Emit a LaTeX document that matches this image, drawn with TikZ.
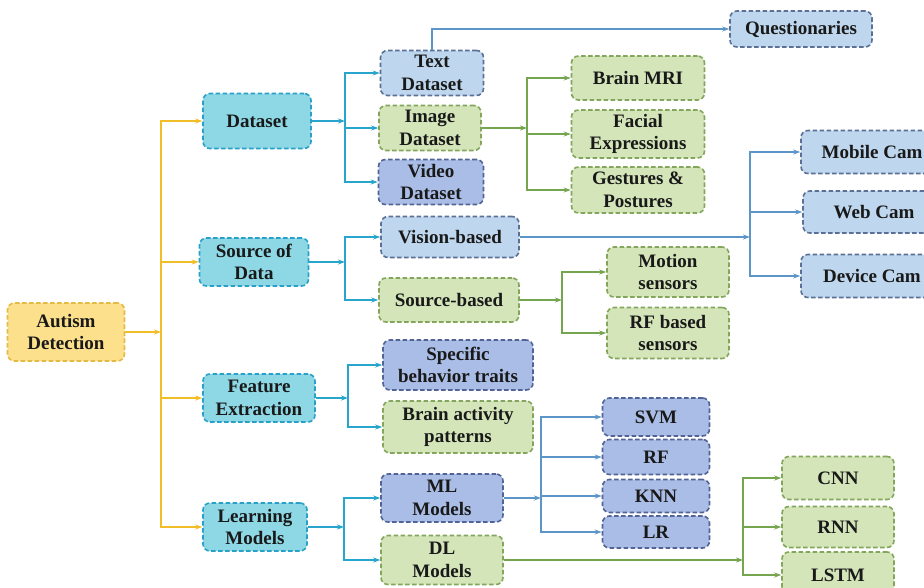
\documentclass[tikz,border=0pt]{standalone}
\usepackage{fontspec}
\setmainfont{Liberation Serif}
\usepackage{tikz}
\usetikzlibrary{arrows.meta, positioning, calc}
\definecolor{rootfill}{RGB}{252,224,140}
\definecolor{rootline}{RGB}{228,186,70}
\definecolor{rootarrow}{RGB}{242,190,40}
\definecolor{catfill}{RGB}{142,216,230}
\definecolor{catline}{RGB}{40,160,200}
\definecolor{catarrow}{RGB}{40,165,205}
\definecolor{skyfill}{RGB}{190,215,238}
\definecolor{skyline}{RGB}{90,112,150}
\definecolor{perifill}{RGB}{170,189,230}
\definecolor{periline}{RGB}{82,100,150}
\definecolor{leaffill}{RGB}{212,229,186}
\definecolor{leafline}{RGB}{132,166,92}
\definecolor{leafarrow}{RGB}{118,165,80}
\definecolor{steelarrow}{RGB}{92,150,200}

\begin{document}
\begin{tikzpicture}[x=1pt, y=-1pt,
  box/.style={rectangle, rounded corners=7pt, line width=1.6pt, dash pattern=on 4.5pt off 2.5pt,
    align=center, inner sep=2pt, font=\bfseries\fontsize{19}{22.5}\selectfont, text=black!90},
  rootbox/.style={box, fill=rootfill, draw=rootline},
  catbox/.style={box, fill=catfill, draw=catline},
  skybox/.style={box, fill=skyfill, draw=skyline},
  peribox/.style={box, fill=perifill, draw=periline},
  leafbox/.style={box, fill=leaffill, draw=leafline},
  link/.style={line width=1.6pt, -{Stealth[length=7pt,width=5pt]}},
  ylink/.style={link, rootarrow},
  clink/.style={link, catarrow},
  slink/.style={link, steelarrow},
  glink/.style={link, leafarrow}]
\useasboundingbox (0,0) rectangle (924,587);
\fill[white] (0,0) rectangle (924,587);
\clip (0,0) rectangle (924,587);

% root and first level
\node[rootbox, minimum width=117pt, minimum height=58pt] (ad) at (66,332) {Autism\\Detection};
\node[catbox, minimum width=108pt, minimum height=55pt] (ds) at (257,121) {Dataset};
\node[catbox, minimum width=109pt, minimum height=48pt] (sd) at (254,262) {Source of\\Data};
\node[catbox, minimum width=112pt, minimum height=48pt] (fe) at (259,398) {Feature\\Extraction};
\node[catbox, minimum width=104pt, minimum height=48pt] (lm) at (255,527) {Learning\\Models};

% datasets
\node[skybox, minimum width=103pt, minimum height=45pt] (txt) at (432,73) {Text\\Dataset};
\node[leafbox, minimum width=102pt, minimum height=45pt] (img) at (430,128) {Image\\Dataset};
\node[peribox, minimum width=105pt, minimum height=45pt] (vid) at (431,182) {Video\\Dataset};
\node[skybox, minimum width=142pt, minimum height=36pt] (quest) at (801,29) {Questionaries};
\node[leafbox, minimum width=133pt, minimum height=44pt] (mri) at (638,78) {Brain MRI};
\node[leafbox, minimum width=133pt, minimum height=48pt] (face) at (638,134) {Facial\\Expressions};
\node[leafbox, minimum width=133pt, minimum height=46pt] (gest) at (638,190) {Gestures \&\\Postures};

% sources
\node[skybox, minimum width=138pt, minimum height=41pt] (vis) at (450,237) {Vision-based};
\node[leafbox, minimum width=140pt, minimum height=44pt] (srcb) at (449,300) {Source-based};
\node[leafbox, minimum width=122pt, minimum height=50pt] (mot) at (668,272) {Motion\\sensors};
\node[leafbox, minimum width=122pt, minimum height=51pt] (rfs) at (668,333) {RF based\\sensors};
\node[skybox, minimum width=142pt, minimum height=43pt] (mob) at (872,152) {Mobile Cam};
\node[skybox, minimum width=142pt, minimum height=42pt] (web) at (874,212) {Web Cam};
\node[skybox, minimum width=142pt, minimum height=43pt] (dev) at (872,276) {Device Cam};

% features
\node[peribox, minimum width=150pt, minimum height=50pt] (spb) at (458,365) {Specific\\behavior traits};
\node[leafbox, minimum width=150pt, minimum height=52pt] (bap) at (458,427) {Brain activity\\patterns};

% models
\node[peribox, minimum width=122pt, minimum height=48pt] (ml) at (442,498) {ML\\Models};
\node[leafbox, minimum width=122pt, minimum height=49pt] (dl) at (442,560) {DL\\Models};
\node[peribox, minimum width=107pt, minimum height=38pt] (svm) at (656,417) {SVM};
\node[peribox, minimum width=107pt, minimum height=35pt] (rf) at (656,457) {RF};
\node[peribox, minimum width=107pt, minimum height=33pt] (knn) at (656,496) {KNN};
\node[peribox, minimum width=107pt, minimum height=32pt] (lr) at (656,532) {LR};
\node[leafbox, minimum width=112pt, minimum height=43pt] (cnn) at (838,478) {CNN};
\node[leafbox, minimum width=112pt, minimum height=41pt] (rnn) at (838,527) {RNN};
\node[leafbox, minimum width=112pt, minimum height=46pt] (lstm) at (838,575) {LSTM};

% junctions
\coordinate (jroot) at (161,332);
\coordinate (jds) at (345,121);
\coordinate (jimg) at (527,128);
\coordinate (jsd) at (345,262);
\coordinate (jvis) at (750,237);
\coordinate (jsrc) at (562,300);
\coordinate (jfe) at (348,398);
\coordinate (jlm) at (344,527);
\coordinate (jml) at (541,498);
\coordinate (jdl) at (743,560);

% connectors
\draw[ylink] (ad) -- (jroot);
\foreach \n in {ds,sd,fe,lm} \draw[ylink] (jroot) |- (\n.west);
\draw[clink] (ds) -- (jds);
\foreach \n in {txt,img,vid} \draw[clink] (jds) |- (\n.west);
\draw[slink] (txt.north) |- (quest.west);
\draw[glink] (img) -- (jimg);
\foreach \n in {mri,face,gest} \draw[glink] (jimg) |- (\n.west);
\draw[clink] (sd) -- (jsd);
\foreach \n in {vis,srcb} \draw[clink] (jsd) |- (\n.west);
\draw[slink] (vis) -- (jvis);
\foreach \n in {mob,web,dev} \draw[slink] (jvis) |- (\n.west);
\draw[glink] (srcb) -- (jsrc);
\foreach \n in {mot,rfs} \draw[glink] (jsrc) |- (\n.west);
\draw[clink] (fe) -- (jfe);
\foreach \n in {spb,bap} \draw[clink] (jfe) |- (\n.west);
\draw[clink] (lm) -- (jlm);
\foreach \n in {ml,dl} \draw[clink] (jlm) |- (\n.west);
\draw[slink] (ml) -- (jml);
\foreach \n in {svm,rf,knn,lr} \draw[slink] (jml) |- (\n.west);
\draw[glink] (dl) -- (jdl);
\foreach \n in {cnn,rnn,lstm} \draw[glink] (jdl) |- (\n.west);
\end{tikzpicture}
\end{document}
